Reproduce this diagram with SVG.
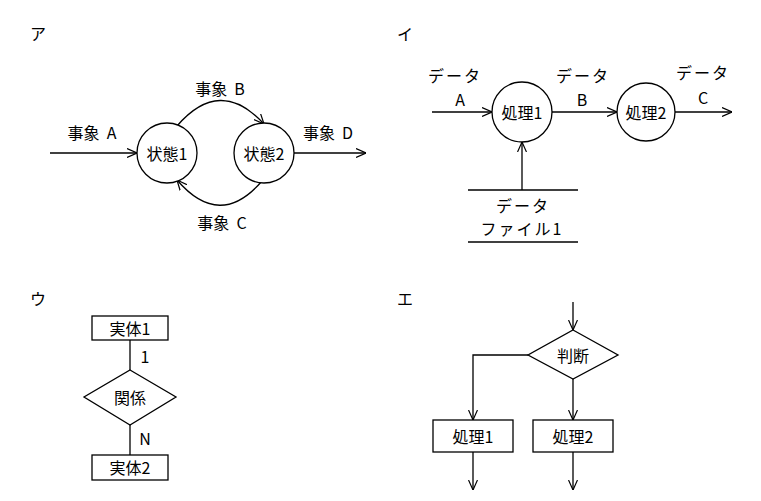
<svg xmlns="http://www.w3.org/2000/svg" width="761" height="501" viewBox="0 0 761 501">
<defs>
<marker id="a" viewBox="0 0 10 10" refX="10" refY="5" markerWidth="10" markerHeight="10" markerUnits="userSpaceOnUse" orient="auto">
<polyline points="0,0.5 10,5 0,9.5" fill="none" stroke="#000" stroke-width="1.2"/>
</marker>
</defs>
<style>
text{font-family:"Noto Sans CJK JP","Liberation Sans",sans-serif;font-size:16px;fill:#000;text-anchor:middle;dominant-baseline:central}
.s{fill:#fff;stroke:#000;stroke-width:1.3}
.c path,.c line,.c polyline{fill:none;stroke:#000;stroke-width:1.3}
</style>
<rect width="761" height="501" fill="#fff"/>
<text x="38" y="33">ア</text>
<text x="405" y="33">イ</text>
<text x="38" y="298">ウ</text>
<text x="405" y="298">エ</text>
<g class="c" id="connectors">
<line x1="50" y1="153" x2="137" y2="153" marker-end="url(#a)"/>
<line x1="294" y1="153" x2="366" y2="153" marker-end="url(#a)"/>
<path d="M177,126 Q220,76 264,124" marker-end="url(#a)"/>
<path d="M262,181 Q220,230 177,180" marker-end="url(#a)"/>
<line x1="432" y1="112" x2="492" y2="112" marker-end="url(#a)"/>
<line x1="552" y1="112" x2="617" y2="112" marker-end="url(#a)"/>
<line x1="675" y1="112" x2="732" y2="112" marker-end="url(#a)"/>
<line x1="522" y1="190" x2="522" y2="142" marker-end="url(#a)"/>
<line x1="130" y1="340" x2="130" y2="370"/>
<line x1="130" y1="425" x2="130" y2="455"/>
<line x1="573" y1="302" x2="573" y2="330" marker-end="url(#a)"/>
<polyline points="528,355 473,355 473,420" marker-end="url(#a)"/>
<line x1="573" y1="379" x2="573" y2="420" marker-end="url(#a)"/>
<line x1="473" y1="452" x2="473" y2="490" marker-end="url(#a)"/>
<line x1="573" y1="452" x2="573" y2="490" marker-end="url(#a)"/>
</g>
<g id="evA"><text x="92" y="132" xml:space="preserve">事象  A</text></g>
<g id="evB"><text x="220" y="88" xml:space="preserve">事象  B</text></g>
<g id="evC"><text x="222" y="222" xml:space="preserve">事象  C</text></g>
<g id="evD"><text x="328" y="132" xml:space="preserve">事象  D</text></g>
<g id="state1"><circle class="s" cx="167" cy="153" r="30"/><text x="167" y="153">状態1</text></g>
<g id="state2"><circle class="s" cx="264" cy="153" r="30"/><text x="264" y="153">状態2</text></g>
<g id="dA"><text x="455" y="75" letter-spacing="2">データ</text><text x="460" y="99">A</text></g>
<g id="dB"><text x="583" y="75" letter-spacing="2">データ</text><text x="582" y="99">B</text></g>
<g id="dC"><text x="703" y="72" letter-spacing="2">データ</text><text x="703" y="97">C</text></g>
<g id="proc1"><circle class="s" cx="522" cy="112" r="30"/><text x="522" y="112">処理1</text></g>
<g id="proc2"><circle class="s" cx="646" cy="112" r="29"/><text x="646" y="112">処理2</text></g>
<g id="file1" class="c"><line x1="468" y1="190" x2="578" y2="190"/><line x1="468" y1="242" x2="578" y2="242"/><text x="523" y="205" letter-spacing="2">データ</text><text x="522" y="228" letter-spacing="2">ファイル1</text></g>
<g id="ent1"><rect class="s" x="92" y="316" width="76" height="24"/><text x="130" y="328">実体1</text></g>
<g id="rel"><polygon class="s" points="130,370 176,397 130,425 84,397"/><text x="130" y="397">関係</text><text x="145" y="356">1</text><text x="145" y="438">N</text></g>
<g id="ent2"><rect class="s" x="92" y="455" width="76" height="25"/><text x="130" y="467">実体2</text></g>
<g id="judge"><polygon class="s" points="573,330 618,355 573,379 528,355"/><text x="573" y="355">判断</text></g>
<g id="box1"><rect class="s" x="433" y="420" width="80" height="32"/><text x="473" y="436">処理1</text></g>
<g id="box2"><rect class="s" x="533" y="420" width="80" height="32"/><text x="573" y="436">処理2</text></g>
</svg>
